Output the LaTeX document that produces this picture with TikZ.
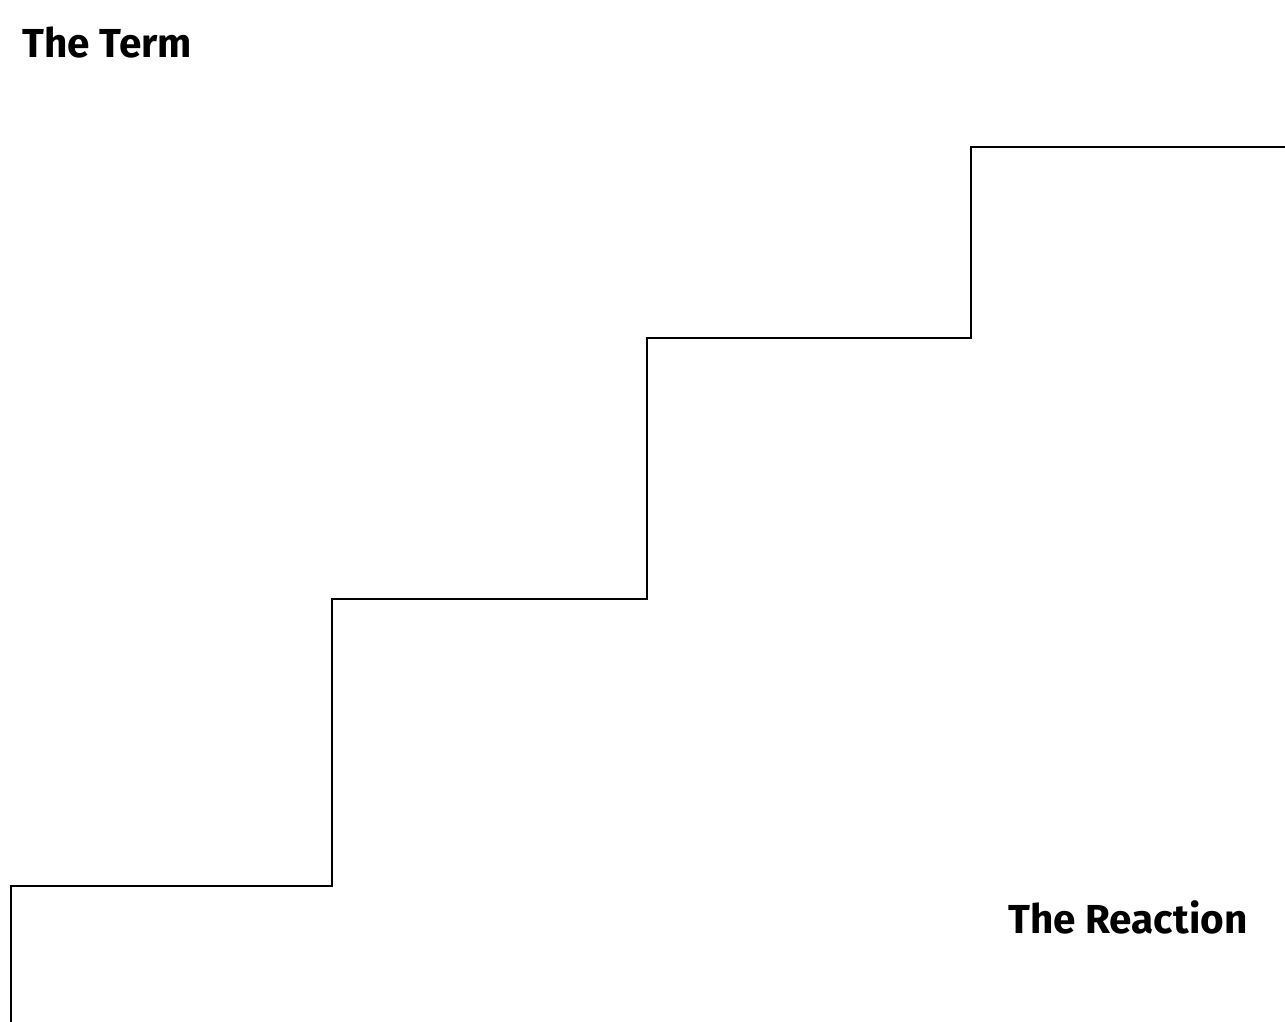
\documentclass[tikz,border=0pt]{standalone}
\usepackage{fontspec}
\setmainfont{Fira Sans}
\tikzset{
  label text/.style={font=\fontsize{40.5}{48}\selectfont\bfseries, inner sep=0pt, anchor=base west},
  stair/.style={line width=2.8pt, line join=miter}
}
\begin{document}
\begin{tikzpicture}[x=1pt,y=-1pt]
\useasboundingbox (0,0) rectangle (1285,1022);
\node[label text] (term) at (22,58) {The Term};
\node[label text] (reaction) at (1008,933) {The Reaction};
\coordinate (s0) at (11,1022);
\coordinate (s1) at (11,886);
\coordinate (s2) at (332,886);
\coordinate (s3) at (332,599);
\coordinate (s4) at (647,599);
\coordinate (s5) at (647,338);
\coordinate (s6) at (971,338);
\coordinate (s7) at (971,147);
\coordinate (s8) at (1285,147);
\draw[stair] (s0) -- (s1) -- (s2) -- (s3) -- (s4) -- (s5) -- (s6) -- (s7) -- (s8);
\end{tikzpicture}
\end{document}
